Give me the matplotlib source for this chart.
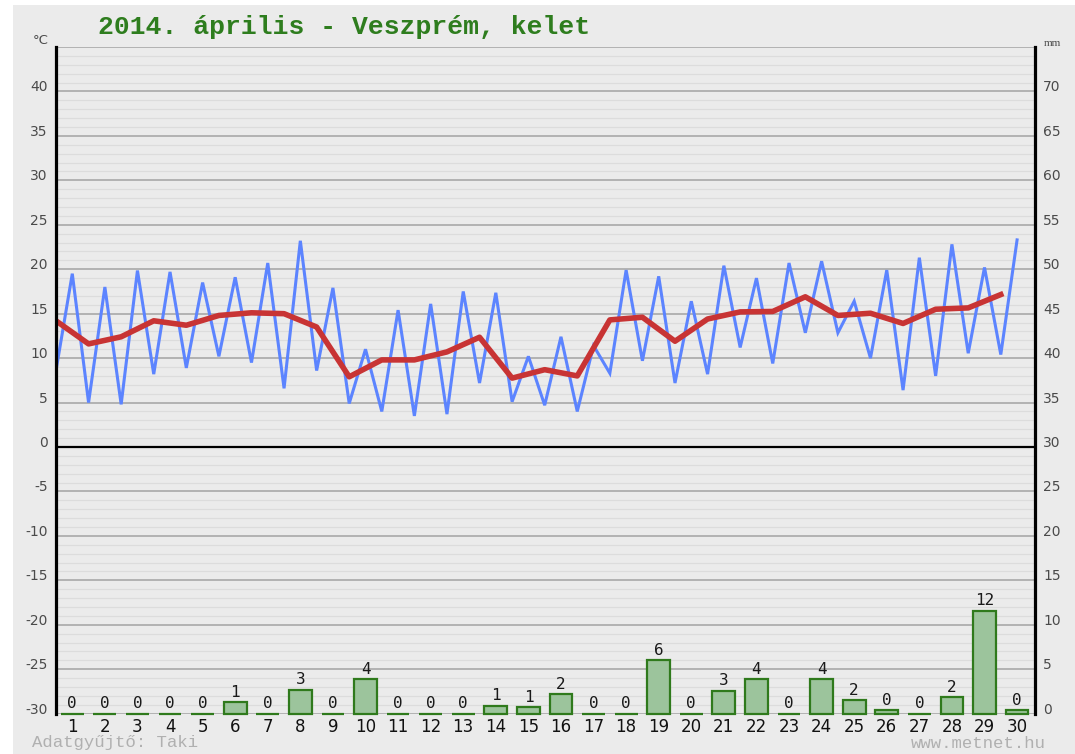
import matplotlib
matplotlib.use('Agg')
import matplotlib.pyplot as plt
from matplotlib.transforms import ScaledTranslation
from matplotlib.patches import Rectangle

# ---------------- data ----------------
days = list(range(1, 31))
day_labels = [str(d) for d in days]

# night minimum (drawn half a day before each day) and daytime maximum, °C
t_min = [8.6, 5.0, 4.8, 8.2, 8.9, 10.2, 9.5, 6.6, 8.6, 4.9,
         4.0, 3.5, 3.7, 7.2, 5.1, 4.7, 4.0, 8.3, 9.7, 7.2,
         8.2, 11.2, 9.4, 12.85, 12.85, 10.0, 6.4, 8.0, 10.55, 10.4]
t_max = [19.5, 18.0, 19.85, 19.7, 18.5, 19.1, 20.7, 23.2, 17.9, 11.0,
         15.4, 16.1, 17.5, 17.35, 10.2, 12.4, 11.4, 19.9, 19.2, 16.4,
         20.4, 19.0, 20.7, 20.9, 16.4, 19.9, 21.3, 22.8, 20.2, 23.3]
# daily mean, °C
t_mean = [14.2, 11.6, 12.4, 14.2, 13.7, 14.8, 15.1, 15.0, 13.5, 7.9,
          9.8, 9.8, 10.7, 12.35, 7.75, 8.7, 8.0, 14.3, 14.6, 11.9,
          14.4, 15.2, 15.25, 16.9, 14.8, 15.05, 13.9, 15.5, 15.65, 17.15]
# precipitation, mm
precip = [0, 0, 0, 0, 0, 1.3, 0, 2.7, 0, 3.9,
          0, 0, 0, 0.9, 0.7, 2.2, 0, 0, 6.0, 0,
          2.6, 3.9, 0, 3.9, 1.5, 0.4, 0, 1.9, 11.6, 0.4]
precip_labels = ['0', '0', '0', '0', '0', '1', '0', '3', '0', '4',
                 '0', '0', '0', '1', '1', '2', '0', '0', '6', '0',
                 '3', '4', '0', '4', '2', '0', '0', '2', '12', '0']

temp_ticks = list(range(-30, 45, 5))
mm_ticks = list(range(0, 75, 5))

title = "2014. április - Veszprém, kelet"

# ---------------- figure ----------------
W, H = 1075, 754
fig = plt.figure(figsize=(W / 100, H / 100), dpi=100)
fig.patch.set_facecolor('white')
bg = '#ebebeb'
fig.patches.append(Rectangle((13 / W, 0), 1 - 13 / W, 1 - 5 / H,
                             transform=fig.transFigure, facecolor=bg,
                             edgecolor='none', zorder=-10))

ax_l, ax_r = 56, 1035
ax_t, ax_b = 47, 713.7
ax = fig.add_axes([ax_l / W, 1 - ax_b / H, (ax_r - ax_l) / W, (ax_b - ax_t) / H])
ax.set_facecolor(bg)
ax.set_xlim(0.5, 30.55)
ax.set_ylim(-30, 45)

# grid lines
for v in range(-30, 46):
    if v % 5 == 0:
        ax.axhline(v, color='#a3a3a3', lw=1.1, zorder=1)
    else:
        ax.axhline(v, color='#dcdcdc', lw=0.9, zorder=0.5)
ax.axhline(0, color='black', lw=1.6, zorder=2)

# temperature lines
bx, by = [], []
for d, lo, hi in zip(days, t_min, t_max):
    bx += [d - 0.5, d]
    by += [lo, hi]
ax.plot(bx, by, color='#5c84ff', lw=2.2, zorder=3, solid_joinstyle='miter')
ax.plot([d - 0.5 for d in days], t_mean, color='#c83434', lw=4.0, zorder=4)

# axes styling
for s in ['top', 'bottom']:
    ax.spines[s].set_visible(False)
for s in ['left', 'right']:
    ax.spines[s].set_linewidth(2.3)
    ax.spines[s].set_color('black')
    ax.spines[s].set_zorder(6)

ax.set_yticks(temp_ticks)
ax.set_yticklabels([str(t) for t in temp_ticks])
ax.tick_params(axis='y', length=0, pad=6, labelsize=10, labelcolor='#4a4a4a')
ax.set_xticks(days)
ax.set_xticklabels(day_labels)
ax.tick_params(axis='x', length=0, pad=3, labelsize=12, labelcolor='#111111')
up = ScaledTranslation(0, 5.5 / 100, fig.dpi_scale_trans)
for lab in ax.get_yticklabels():
    lab.set_transform(lab.get_transform() + up)

# precipitation (right axis)
ax2 = ax.twinx()
ax2.set_ylim(0, 75)
ax2.set_xlim(0.5, 30.55)
for s in ax2.spines.values():
    s.set_visible(False)
bars = ax2.bar(days, precip, width=0.7, color='#9cc49c', edgecolor='#2f7a1c',
               linewidth=1.6, zorder=3)
for b in bars:
    b.set_clip_on(False)
for d, p, lab in zip(days, precip, precip_labels):
    ax2.annotate(lab, (d, p), xytext=(0, 3.8), textcoords='offset points',
                 ha='center', va='baseline', fontsize=11.5,
                 family='DejaVu Sans Mono', color='#1a1a1a')
ax2.set_yticks(mm_ticks)
ax2.set_yticklabels([str(m) for m in mm_ticks])
ax2.tick_params(axis='y', length=0, pad=6, labelsize=10, labelcolor='#4a4a4a')
for lab in ax2.get_yticklabels():
    lab.set_transform(lab.get_transform() + up)

# texts
fig.text(98 / W, 1 - 27 / H, title, ha='left', va='center',
         family='Liberation Mono', fontweight='bold', fontsize=19, color='#2e7d1e')
fig.text(41 / W, 1 - 40 / H, '°C', ha='center', va='center', fontsize=9.5,
         color='#4a4a4a')
fig.text(1052 / W, 1 - 43 / H, 'mm', ha='center', va='center', fontsize=8,
         family='Liberation Serif', color='#4a4a4a')
fig.text(32 / W, 1 - 743 / H, 'Adatgyűjtő: Taki', ha='left', va='center',
         family='Liberation Mono', fontsize=12.5, color='#b0b0b0')
fig.text(1046 / W, 1 - 743 / H, 'www.metnet.hu', ha='right', va='center',
         family='Liberation Mono', fontsize=12.5, color='#b0b0b0')

fig.savefig('out.png', dpi=100, facecolor=fig.get_facecolor())
